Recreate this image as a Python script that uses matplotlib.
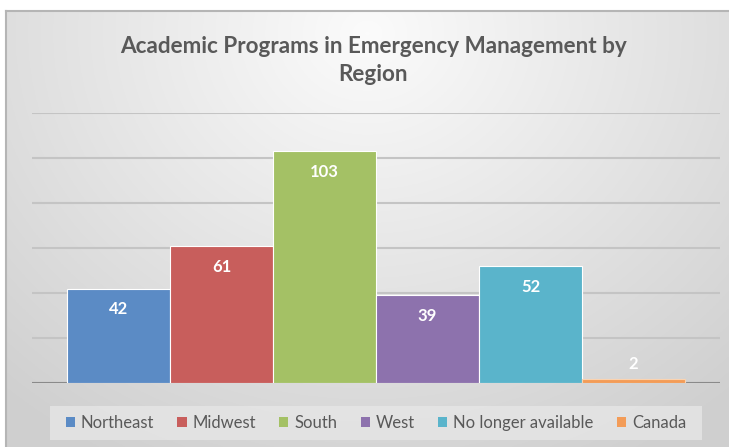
import matplotlib.pyplot as plt
from matplotlib.patches import Rectangle
import numpy as np

# datos del grafico
regiones = ["Northeast", "Midwest", "South", "West", "No longer available", "Canada"]
programas = [42, 61, 103, 39, 52, 2]
colores = ["#5b8bc5", "#c85e5c", "#a4c165", "#8d72ad", "#5ab4cb", "#f39c58"]
titulo = "Academic Programs in Emergency Management by\nRegion"

plt.rcParams['font.family'] = ['Lato', 'DejaVu Sans']

W, H = 729, 447
fig = plt.figure(figsize=(W / 100, H / 100), dpi=100)
fig.patch.set_facecolor("white")

# fondo con degradado radial (estilo Excel)
bg = fig.add_axes([6 / W, 0, (W - 6) / W, (H - 11) / H])
yy, xx = np.mgrid[0:1:300j, 0:1:500j]
r = np.sqrt(((xx - 0.5) / 0.75) ** 2 + ((yy - 0.05) / 1.1) ** 2)
r = np.clip(r, 0, 1)
tono = 0.985 - 0.17 * r
img = np.dstack([tono, tono, tono])
bg.imshow(img, aspect="auto", extent=[0, 1, 0, 1], origin="upper")
bg.set_xlim(0, 1)
bg.set_ylim(0, 1)
bg.set_xticks([])
bg.set_yticks([])
for lado in ["right", "bottom"]:
    bg.spines[lado].set_visible(False)
for lado in ["top", "left"]:
    bg.spines[lado].set_color("#b5b5b5")
    bg.spines[lado].set_linewidth(1.5)

# caja de la leyenda
fig.patches.append(Rectangle((50 / W, 1 - 440 / H), 652 / W, 34 / H,
                             transform=fig.transFigure, facecolor="#e6e6e6",
                             edgecolor="none", alpha=0.8, zorder=1))

# area del grafico
ax = fig.add_axes([32 / W, 64 / H, 688 / W, 270 / H])
ax.patch.set_alpha(0)
pos = np.arange(len(regiones))
barras = ax.bar(pos, programas, width=1.0, color=colores, edgecolor="white",
                linewidth=0.8, zorder=3, label=regiones)
barras[-1].set_edgecolor("#fbd3b0")

ax.set_ylim(0, 120)
ax.set_xlim(-0.5 - 0.34, len(regiones) - 0.5 + 0.34)
for v in range(20, 121, 20):
    ax.axhline(v, color="#c4c4c4", linewidth=1.5, zorder=1)
ax.axhline(0, color="#8a8a8a", linewidth=1.5, zorder=2)
ax.set_xticks([])
ax.set_yticks([])
for s in ax.spines.values():
    s.set_visible(False)

# etiquetas de valores
for x, v in zip(pos, programas):
    ax.text(x, max(v - 9.3, 8.5), str(v), ha="center", va="center",
            color="white", fontsize=12, fontweight="bold", zorder=4)

fig.text(0.512, 1 - 60.5 / H, titulo, ha="center", va="center", fontsize=16.2,
         fontweight="bold", color="#595959", linespacing=1.4)

leg = fig.legend(handles=barras, labels=regiones, loc="center",
                 bbox_to_anchor=(376 / W, 1 - 423 / H), ncol=6, fontsize=12,
                 frameon=False, handlelength=0.55, handleheight=0.55,
                 handletextpad=0.36, columnspacing=1.39, borderpad=0.2)
for t in leg.get_texts():
    t.set_color("#595959")
for h in leg.legend_handles:
    h.set_edgecolor("none")

fig.savefig("out.png", dpi=100)
